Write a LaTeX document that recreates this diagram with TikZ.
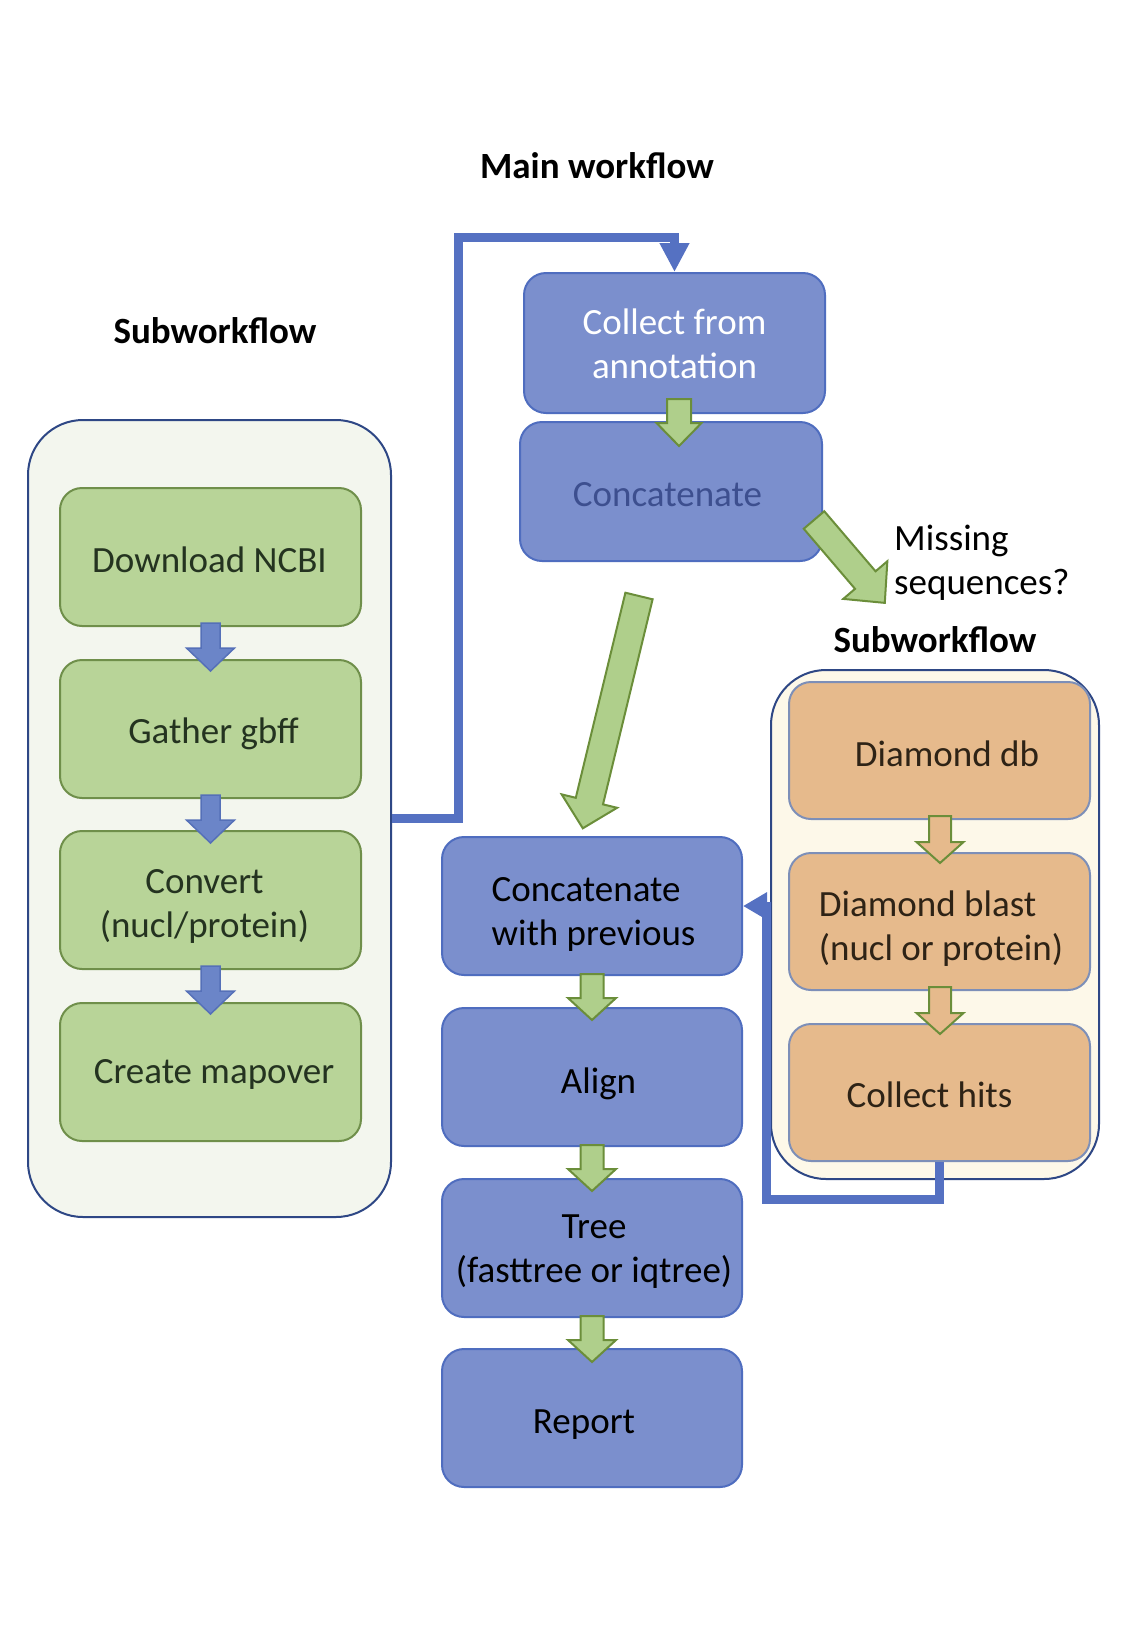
\documentclass[tikz,border=0pt]{standalone}
\usepackage{fontspec}
\setmainfont{Carlito}
\usetikzlibrary{calc,arrows.meta}
\definecolor{bluefill}{HTML}{7B8FCD}
\definecolor{blueline}{HTML}{4F6DBF}
\definecolor{connblue}{HTML}{5571C2}
\definecolor{greenfill}{HTML}{B8D498}
\definecolor{greenline}{HTML}{6F8F4A}
\definecolor{greentext}{HTML}{243320}
\definecolor{leftbg}{HTML}{F3F6EE}
\definecolor{rightbg}{HTML}{FDF8E9}
\definecolor{contline}{HTML}{2E4785}
\definecolor{orangefill}{HTML}{E6BA8C}
\definecolor{orangeline}{HTML}{7D8FB8}
\definecolor{orangetext}{HTML}{2E2316}
\definecolor{agreenfill}{HTML}{AFCF8B}
\definecolor{agreenline}{HTML}{6B8E3A}
\definecolor{abluefill}{HTML}{6B85C8}
\definecolor{ablueline}{HTML}{5570B8}
\definecolor{concattext}{HTML}{3D4F8F}
% block arrow: style, tail point, angle, length, shaft width, head width, head length
\newcommand{\blk}[7]{\draw[#1,shift={#2},rotate=#3] (0,{-#5/2}) -- ({#4-#7},{-#5/2}) -- ({#4-#7},{-#6/2}) -- (#4,0) -- ({#4-#7},{#6/2}) -- ({#4-#7},{#5/2}) -- (0,{#5/2}) -- cycle;}
% text block: column spec, x offset, y offset (down), text
\newcommand{\tx}[4]{\raisebox{-#3}[\height][\depth]{\kern#2\relax\begin{tabular}{@{}#1@{}}#4\end{tabular}\kern-#2\relax}}
\tikzset{
  txt/.style={font=\fontsize{37}{44}\selectfont, inner sep=0pt},
  hdr/.style={font=\fontsize{37}{44}\selectfont\bfseries, inner sep=0pt},
  gbox/.style={txt, draw=greenline, fill=greenfill, line width=2pt, rounded corners=22pt, minimum width=301pt, minimum height=138pt, text=greentext},
  bbox/.style={txt, draw=blueline, fill=bluefill, line width=2pt, rounded corners=22pt, minimum width=300pt, minimum height=138pt, text=black},
  obox/.style={txt, draw=orangeline, fill=orangefill, line width=2pt, rounded corners=22pt, minimum width=301pt, minimum height=137pt, text=orangetext},
  cont/.style={draw=contline, line width=2pt, rounded corners=55pt, inner sep=0pt},
  conn/.style={draw=connblue, line width=9pt},
  garr/.style={fill=agreenfill, draw=agreenline, line width=2pt, line join=miter},
  barr/.style={fill=abluefill, draw=ablueline, line width=1.5pt, line join=miter},
  oarr/.style={fill=orangefill, draw=agreenline, line width=2pt, line join=miter},
}
\begin{document}
\begin{tikzpicture}[x=1pt,y=-1pt]
\useasboundingbox[fill=white] (0,0) rectangle (1125,1625);
% containers
\node[cont, fill=leftbg, minimum width=363pt, minimum height=797pt] (lc) at (209.5,818.5) {};
\node[cont, fill=rightbg, minimum width=328pt, minimum height=509pt] (rc) at (935,924.5) {};
% headers
\node[hdr] (hmain) at (597,166) {Main workflow};
\node[hdr] (hsubl) at (215,331) {Subworkflow};
\node[hdr] (hsubr) at (935,640) {Subworkflow};
\node[txt, anchor=west] (miss) at (894,564) {\tx{l}{0pt}{0pt}{Missing\\sequences?}};
% left column
\node[gbox] (dl) at (210.5,557) {\tx{c}{-1pt}{7pt}{Download NCBI}};
\node[gbox] (ga) at (210.5,729) {\tx{c}{3pt}{6pt}{Gather gbff}};
\node[gbox] (cv) at (210.5,900) {\tx{c}{-6pt}{7pt}{Convert\\(nucl/protein)}};
\node[gbox] (cm) at (210.5,1072) {\tx{c}{3.5pt}{3pt}{Create mapover}};
% main column
\node[bbox, text=white, minimum width=301pt, minimum height=140pt] (cf) at (674.5,343) {\tx{c}{0pt}{4.5pt}{Collect from\\annotation}};
\node[bbox, text=concattext, minimum width=302pt, minimum height=139pt] (cc) at (671,491.5) {\tx{c}{-3.5pt}{6.4pt}{Concatenate}};
\node[bbox] (cw) at (592,906) {\tx{l}{1.5pt}{8.4pt}{Concatenate\\with previous}};
\node[bbox] (al) at (592,1077) {\tx{c}{6.5pt}{7.6pt}{Align}};
\node[bbox] (tr) at (592,1248) {\tx{c}{2pt}{3.5pt}{Tree\\(fasttree or iqtree)}};
\node[bbox] (rp) at (592,1418) {\tx{c}{-8pt}{6.2pt}{Report}};
% right column
\node[obox] (dd) at (939.5,750.5) {\tx{c}{7.5pt}{6.7pt}{Diamond db}};
\node[obox] (db) at (939.5,921.5) {\tx{l}{1.5pt}{7.7pt}{Diamond blast\\(nucl or protein)}};
\node[obox] (ch) at (939.5,1092.5) {\tx{c}{-10pt}{5.7pt}{Collect hits}};
% small arrows left
\blk{barr}{($(dl.south)+(0,-4)$)}{-90}{48}{19}{48}{23}
\blk{barr}{($(ga.south)+(0,-4)$)}{-90}{48}{19}{48}{23}
\blk{barr}{($(cv.south)+(0,-4)$)}{-90}{48}{19}{48}{23}
% main arrows
\blk{garr}{($(cf.south)+(4.5,-15)$)}{-90}{47}{24}{45}{23}
\blk{garr}{($(cw.south)+(0,-2)$)}{-90}{46}{23}{48}{22}
\blk{garr}{($(al.south)+(0,-2)$)}{-90}{46}{23}{48}{22}
\blk{garr}{($(tr.south)+(0,-2)$)}{-90}{46}{23}{48}{22}
% orange arrows
\blk{oarr}{($(dd.south)+(0.5,-4)$)}{-90}{47}{22}{47}{21}
\blk{oarr}{($(db.south)+(0.5,-4)$)}{-90}{47}{22}{47}{21}
% big arrows
\blk{garr}{(814,520)}{-49.5}{109}{27}{58}{30}
\blk{garr}{(639,596)}{-103.6}{239}{28}{57}{28}
% connectors
\draw[conn, -{Triangle[length=29pt,width=28pt]}] (lc.east) -| (458,237) -| (cf.north);
\draw[conn, -{Triangle[length=24pt,width=26pt]}] (ch.south) |- (766,1199) |- (cw.east);
\end{tikzpicture}
\end{document}
